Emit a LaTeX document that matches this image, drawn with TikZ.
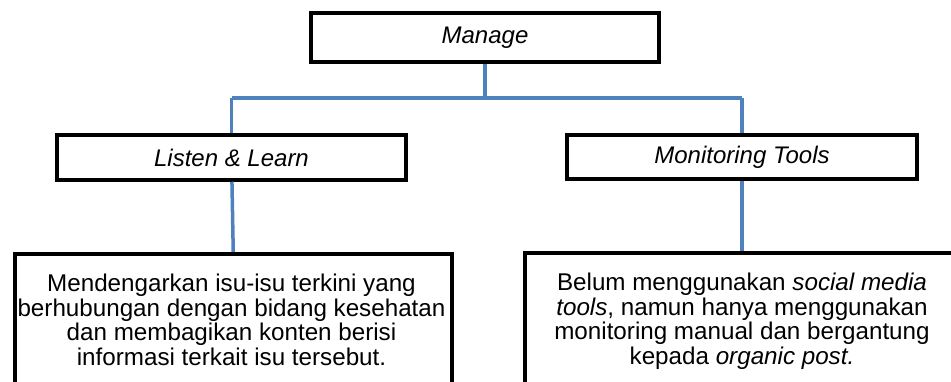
\documentclass[tikz,border=0pt]{standalone}
\usepackage{fontspec}
\setmainfont{Liberation Sans}
\definecolor{linkblue}{HTML}{4F81BD}
\begin{document}
\begin{tikzpicture}[x=1pt,y=-1pt,
  box/.style={draw=black, line width=3.5pt, fill=white, inner sep=0pt,
    font=\fontsize{24}{24.5}\selectfont},
  link/.style={draw=linkblue, line width=3.5pt},
  txt/.style={font=\fontsize{24.2}{24.5}\selectfont, align=center, inner sep=0pt}]
\useasboundingbox (0,0) rectangle (951,381);
\clip (0,0) rectangle (951,381);
\fill[white] (0,0) rectangle (951,381);
\coordinate (barL) at (231.5,98);
\coordinate (barR) at (742,98);
\node[box, minimum width=348, minimum height=49] (manage) at (485,37.5) {\textit{Manage}};
\node[box, minimum width=349, minimum height=45] (listen) at (231.5,157.5) {\textit{Listen \& Learn}};
\node[box, minimum width=350, minimum height=44] (monitor) at (742,157) {\textit{Monitoring Tools}};
\node[box, minimum width=437, minimum height=200, anchor=north west] (ldesc) at (13,252) {};
\node[box, minimum width=480, minimum height=200, anchor=north west] (rdesc) at (523,251) {};
\node[txt, anchor=north] (ltext) at (231.5,274) {Mendengarkan isu-isu terkini yang\\berhubungan dengan bidang kesehatan\\dan membagikan konten berisi\\informasi terkait isu tersebut.};
\node[txt, anchor=north] (rtext) at (742,273) {Belum menggunakan \textit{social media}\\\textit{tools}, namun hanya menggunakan\\monitoring manual dan bergantung\\kepada \textit{organic post.}};
\draw[link] (manage) -- (manage |- barL);
\draw[link] (barL) -- (barR);
\draw[link] (barL) -- (listen);
\draw[link] (barR) -- (monitor);
\draw[link] (listen) -- (ldesc.north);
\draw[link] (monitor) -- (monitor |- rdesc.north);
\end{tikzpicture}
\end{document}
